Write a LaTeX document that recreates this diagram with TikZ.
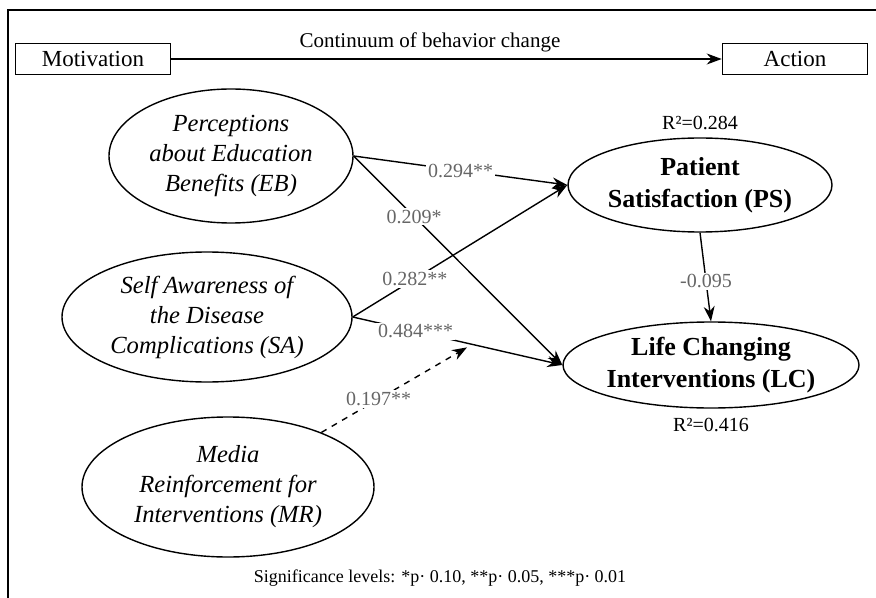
\documentclass[tikz,border=0pt]{standalone}
\usepackage{fontspec}
\setmainfont{Liberation Serif}
\usetikzlibrary{shapes, arrows.meta, calc, positioning}

\begin{document}
\begin{tikzpicture}[x=0.5pt, y=-0.5pt,
    construct/.style={draw, ellipse, line width=0.7pt, inner sep=0pt, align=center,
        font=\fontsize{12.3}{15}\selectfont\itshape},
    outcome/.style={draw, ellipse, line width=0.7pt, inner sep=0pt, align=center,
        font=\fontsize{13}{16}\selectfont\bfseries},
    stagebox/.style={draw, rectangle, line width=0.8pt, minimum width=77.5pt,
        minimum height=15.5pt, font=\fontsize{11.5}{13}\selectfont},
    link/.style={line width=0.7pt, -{Stealth[length=7.5pt, width=5.5pt]}},
    coef/.style={fill=white, text=black!60, inner sep=1pt, font=\fontsize{10}{12}\selectfont},
    rsq/.style={font=\fontsize{10}{12}\selectfont}
]
    \useasboundingbox (0,0) rectangle (876,598);
    \draw[line width=0.8pt] (8,598) -- (8,10) -- (876,10);

    \node[stagebox] (motiv) at (93,59) {Motivation};
    \node[stagebox, minimum width=72.5pt] (action) at (795,59) {Action};
    \draw[link] (motiv) -- node[above, pos=.47, font=\fontsize{10.5}{12}\selectfont] {Continuum of behavior change} (action);

    \node[construct, minimum width=122pt, minimum height=67pt] (eb) at (231,156) {Perceptions\\about Education\\Benefits (EB)};
    \node[construct, minimum width=145pt, minimum height=65pt] (sa) at (207,317) {Self Awareness of\\the Disease\\Complications (SA)};
    \node[construct, minimum width=146pt, minimum height=70pt] (mr) at (228,487) {Media\\Reinforcement for\\Interventions (MR)};
    \node[outcome, minimum width=132pt, minimum height=47pt] (ps) at (700,185) {Patient\\Satisfaction (PS)};
    \node[outcome, minimum width=148pt, minimum height=43pt] (lc) at (711,365) {Life Changing\\Interventions (LC)};

    \node[rsq, above=0pt of ps] (r2ps) {R²=0.284};
    \node[rsq, below=1pt of lc] (r2lc) {R²=0.416};

    \draw[link] (eb.east) -- node[coef] {0.294**} (ps.west);
    \draw[link] (eb.east) -- node[coef, pos=.29] {0.209*} (lc.west);
    \draw[link] (sa.east) -- node[coef, pos=.29] {0.282**} (ps.west);
    \draw[link] (sa.east) -- node[coef, pos=.3] {0.484***} coordinate[pos=.57] (moder) (lc.west);
    \draw[link] (ps.south) -- node[coef, pos=.55] {-0.095} (lc.north);
    \draw[link, dashed, shorten >=3pt] (mr) -- node[coef, pos=.38] {0.197**} (moder);

    \node[font=\fontsize{9}{11}\selectfont] (sig) at (440,578) {Significance levels: *p· 0.10, **p· 0.05, ***p· 0.01};
\end{tikzpicture}
\end{document}
